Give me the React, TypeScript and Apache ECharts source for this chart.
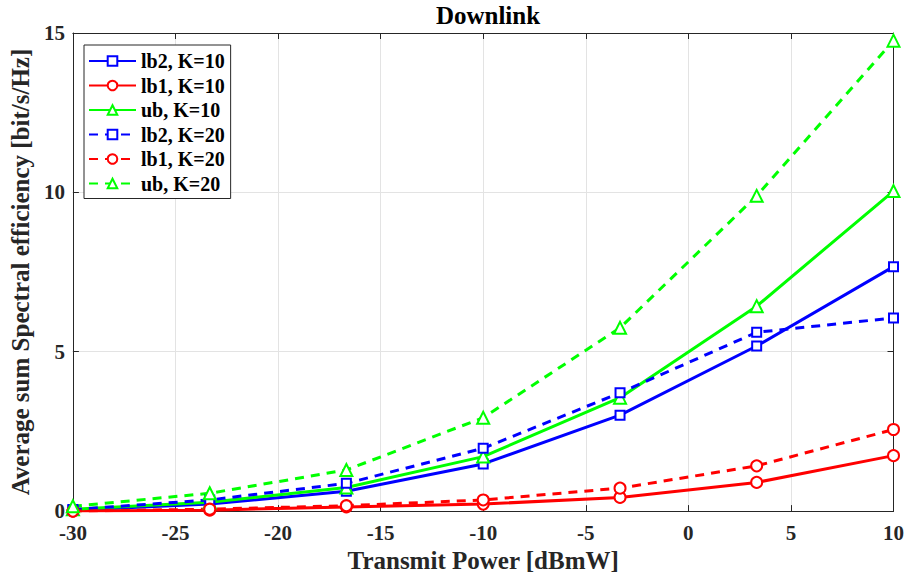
import React, { useEffect, useRef } from "react";
import * as echarts from "echarts";

const xValues = [-30, -23.33, -16.67, -10, -3.33, 3.33, 10];
const lb2K10 = [0.03, 0.22, 0.62, 1.48, 3.01, 5.18, 7.67];
const lb1K10 = [0.0, 0.03, 0.13, 0.22, 0.43, 0.9, 1.74];
const ubK10 = [0.06, 0.28, 0.74, 1.71, 3.56, 6.43, 10.04];
const lb2K20 = [0.05, 0.35, 0.87, 1.97, 3.71, 5.61, 6.06];
const lb1K20 = [0.0, 0.06, 0.17, 0.35, 0.72, 1.42, 2.56];
const ubK20 = [0.15, 0.56, 1.29, 2.93, 5.75, 9.89, 14.76];

const FONT = "Liberation Serif";
const AXIS_COLOR = "#262626";

export default function App() {
  const ref = useRef<HTMLDivElement>(null);
  useEffect(() => {
    document.body.style.margin = "0";
    if (!ref.current) return;
    const chart = echarts.init(ref.current, null, { renderer: "svg" });
    const mk = (name: string, data: number[], color: string, symbol: string, size: number, dashed: boolean) => ({
      name,
      type: "line",
      xAxisIndex: 0,
      yAxisIndex: 0,
      data: xValues.map((x, i) => [x, data[i]]),
      symbol,
      symbolSize: size,
      lineStyle: { color, width: 3, type: dashed ? [9, 7] : "solid" },
      itemStyle: { color, borderColor: color, borderWidth: 2.2 },
      z: 3,
    });
    const axisCommon = {
      type: "value" as const,
      axisLine: { show: true, onZero: false, lineStyle: { color: AXIS_COLOR, width: 1 } },
      axisTick: { show: true, inside: true, length: 6, lineStyle: { color: AXIS_COLOR } },
    };
    chart.setOption({
      animation: false,
      backgroundColor: "#ffffff",
      title: {
        text: "Downlink",
        left: 483,
        textAlign: "center",
        top: -2,
        textStyle: { fontFamily: FONT, fontWeight: "bold", fontSize: 25, color: "#000" },
      },
      grid: { left: 70, right: 12, top: 33, bottom: 65, containLabel: false },
      legend: {
        orient: "vertical",
        left: 84,
        top: 45,
        itemWidth: 47,
        itemHeight: 12,
        itemGap: 4.5,
        padding: [6, 6, 5, 4],
        backgroundColor: "#ffffff",
        borderColor: "#262626",
        borderWidth: 1,
        textStyle: { fontFamily: FONT, fontWeight: "bold", fontSize: 20, color: "#000" },
        data: ["lb2, K=10", "lb1, K=10", "ub, K=10", "lb2, K=20", "lb1, K=20", "ub, K=20"],
      },
      xAxis: [
        {
          ...axisCommon,
          min: -30,
          max: 10,
          interval: 5,
          name: "Transmit Power [dBmW]",
          nameLocation: "middle",
          nameGap: 36,
          nameTextStyle: { fontFamily: FONT, fontWeight: "bold", fontSize: 25, color: AXIS_COLOR },
          axisLabel: { fontFamily: FONT, fontWeight: "bold", fontSize: 21, color: AXIS_COLOR, margin: 11 },
          splitLine: { show: true, lineStyle: { color: "#e3e3e3", width: 1 } },
        },
        {
          ...axisCommon,
          position: "top",
          min: -30,
          max: 10,
          interval: 5,
          axisLabel: { show: false },
          splitLine: { show: false },
        },
      ],
      yAxis: [
        {
          ...axisCommon,
          min: 0,
          max: 15,
          interval: 5,
          name: "Average sum Spectral efficiency [bit/s/Hz]",
          nameLocation: "middle",
          nameGap: 37,
          nameTextStyle: { fontFamily: FONT, fontWeight: "bold", fontSize: 25, color: AXIS_COLOR },
          axisLabel: { fontFamily: FONT, fontWeight: "bold", fontSize: 21, color: AXIS_COLOR, margin: 8 },
          splitLine: { show: true, lineStyle: { color: "#e3e3e3", width: 1 } },
        },
        {
          ...axisCommon,
          position: "right",
          min: 0,
          max: 15,
          interval: 5,
          axisLabel: { show: false },
          splitLine: { show: false },
        },
      ],
      series: [
        mk("lb2, K=10", lb2K10, "#0000ff", "emptyRect", 9, false),
        mk("lb1, K=10", lb1K10, "#ff0000", "emptyCircle", 11, false),
        mk("ub, K=10", ubK10, "#00ff00", "emptyTriangle", 12, false),
        mk("lb2, K=20", lb2K20, "#0000ff", "emptyRect", 9, true),
        mk("lb1, K=20", lb1K20, "#ff0000", "emptyCircle", 11, true),
        mk("ub, K=20", ubK20, "#00ff00", "emptyTriangle", 12, true),
      ],
    });
    return () => chart.dispose();
  }, []);
  return <div ref={ref} style={{ width: 907, height: 578 }} />;
}
